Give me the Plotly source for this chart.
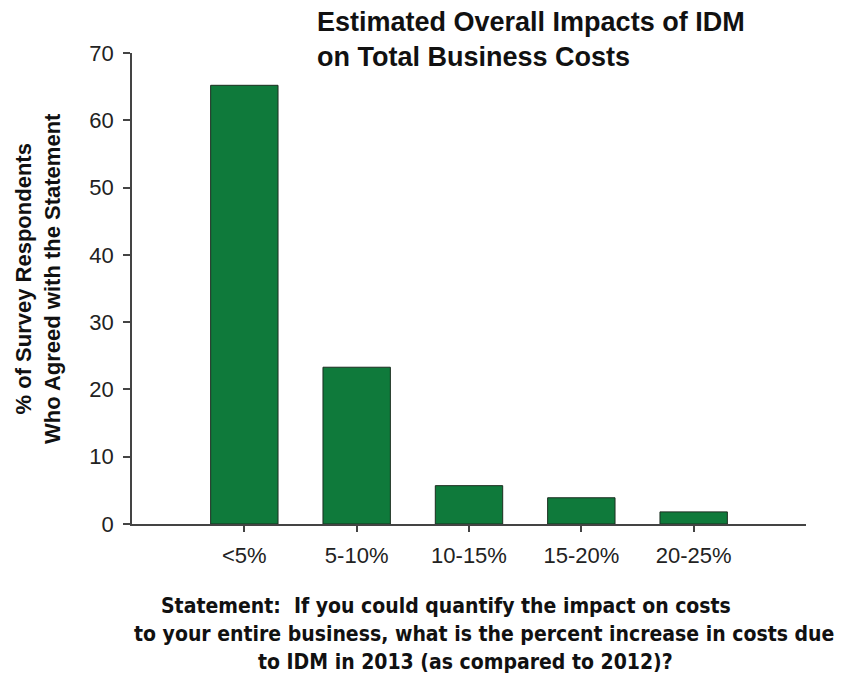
import plotly.graph_objects as go

categories = ["<5%", "5-10%", "10-15%", "15-20%", "20-25%"]
values = [65.2, 23.3, 5.7, 3.9, 1.8]
y_ticks = [0, 10, 20, 30, 40, 50, 60, 70]

title_lines = ["Estimated Overall Impacts of IDM", "on Total Business Costs"]
y_title_lines = ["% of Survey Respondents", "Who Agreed with the Statement"]
x_title_lines = [
    "Statement:  If you could quantify the impact on costs",
    "to your entire business, what is the percent increase in costs due",
    "to IDM in 2013 (as compared to 2012)?",
]

W, H = 845, 681
L, R, T, B = 132, 39, 53, 157

fig = go.Figure(
    go.Bar(
        x=categories,
        y=values,
        width=0.6,
        marker=dict(color="#0f7a3b", line=dict(color="#1b2e20", width=1)),
    )
)

axis_font = dict(family="Liberation Sans, Arial, sans-serif", size=22, color="#222")

fig.update_layout(
    width=W,
    height=H,
    margin=dict(l=L, r=R, t=T, b=B),
    plot_bgcolor="white",
    paper_bgcolor="white",
    showlegend=False,
    xaxis=dict(
        type="category",
        range=[-1, 5],
        showline=True,
        linecolor="#444",
        linewidth=1.5,
        ticks="outside",
        ticklen=6,
        tickwidth=1.5,
        tickcolor="#444",
        showgrid=False,
        tickfont=axis_font,
        zeroline=False,
        ticklabelstandoff=5,
    ),
    yaxis=dict(
        range=[0, 70],
        tickvals=y_ticks,
        showline=True,
        linecolor="#444",
        linewidth=1.5,
        ticks="outside",
        ticklen=7,
        tickwidth=1.5,
        tickcolor="#444",
        showgrid=False,
        zeroline=False,
        tickfont=axis_font,
        ticklabelstandoff=5,
    ),
)

pw = W - L - R
ph = H - T - B

def px(xp):
    return (xp - L) / pw

def py(yp):
    return 1 - (yp - T) / ph

fig.add_annotation(
    text="<b>" + "<br>".join(title_lines) + "</b>",
    xref="paper", yref="paper",
    x=px(315), y=py(5), xanchor="left", yanchor="top",
    align="left", showarrow=False,
    font=dict(family="Liberation Sans, Arial, sans-serif", size=27, color="#111"),
)

fig.add_annotation(
    text="<b>" + "<br>".join(y_title_lines) + "</b>",
    xref="paper", yref="paper",
    x=px(38), y=py(279), xanchor="center", yanchor="middle",
    textangle=-90, align="center", showarrow=False,
    font=dict(family="Liberation Sans, Arial, sans-serif", size=22, color="#111"),
)

line_centers_x = [446, 484, 465]
line_centers_y = [606, 634, 662]
for txt, cx, cy in zip(x_title_lines, line_centers_x, line_centers_y):
    fig.add_annotation(
        text="<b>" + txt + "</b>",
        xref="paper", yref="paper",
        x=px(cx), y=py(cy), xanchor="center", yanchor="middle",
        showarrow=False,
        font=dict(family="DejaVu Sans Condensed, Liberation Sans, sans-serif", size=21, color="#111"),
    )

fig.write_html("out.html")
